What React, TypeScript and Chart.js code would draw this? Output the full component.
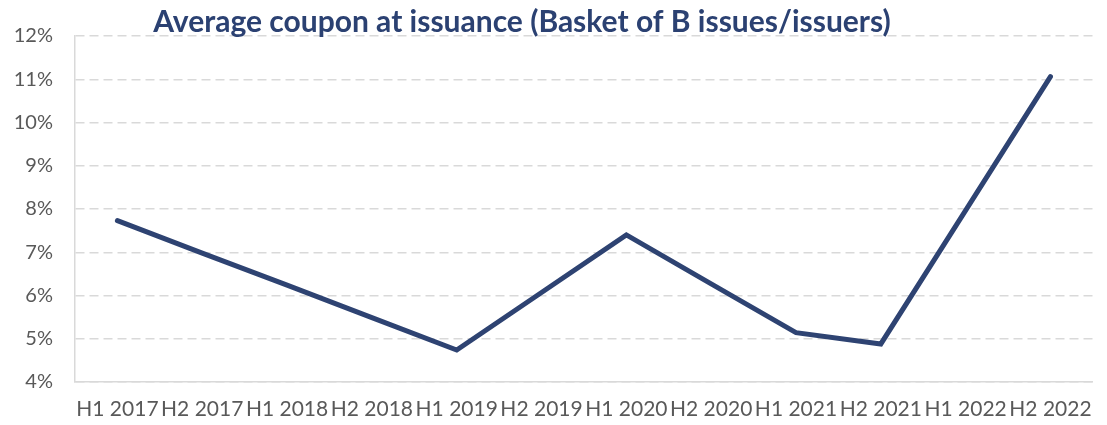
import React, { useEffect, useRef } from "react";
import { Chart, registerables } from "chart.js";

Chart.register(...registerables);

const categories = [
  "H1 2017", "H2 2017", "H1 2018", "H2 2018", "H1 2019", "H2 2019",
  "H1 2020", "H2 2020", "H1 2021", "H2 2021", "H1 2022", "H2 2022",
];
const avgCoupon = [7.73, 6.98, 6.24, 5.49, 4.74, 6.07, 7.4, 6.27, 5.14, 4.88, 7.97, 11.06];
const yTicks = [4, 5, 6, 7, 8, 9, 10, 11, 12];
const titleText = "Average coupon at issuance (Basket of B issues/issuers)";

const FONT = "Lato, 'Open Sans', sans-serif";

export default function App() {
  const ref = useRef<HTMLCanvasElement | null>(null);
  useEffect(() => {
    document.body.style.margin = "0";
    const titlePlugin = {
      id: "customTitle",
      afterDraw(chart: any) {
        const ctx = chart.ctx;
        ctx.save();
        ctx.font = `bold 30px ${FONT}`;
        ctx.fillStyle = "#2B4172";
        ctx.textAlign = "center";
        ctx.textBaseline = "alphabetic";
        ctx.fillText(titleText, 522, 32);
        ctx.restore();
      },
    };
    const chart = new Chart(ref.current!, {
      type: "line",
      data: {
        labels: categories,
        datasets: [
          {
            data: avgCoupon,
            borderColor: "#2E4372",
            borderWidth: 5,
            pointRadius: 0,
            tension: 0,
            fill: false,
            borderCapStyle: "round",
            borderJoinStyle: "miter",
          },
        ],
      },
      options: {
        responsive: false,
        animation: false,
        layout: { padding: { top: 36, right: 9, left: 0, bottom: 0 } },
        plugins: { legend: { display: false }, tooltip: { enabled: false }, title: { display: false } },
        scales: {
          x: {
            offset: true,
            grid: { display: false, drawTicks: false },
            border: { display: true, color: "#D9D9D9", width: 1.5 },
            ticks: {
              autoSkip: false,
              maxRotation: 0,
              minRotation: 0,
              padding: 15,
              color: "#595959",
              font: { family: FONT, size: 21 },
            },
            afterFit(scale: any) {
              scale.height = 43;
            },
          },
          y: {
            min: 4,
            max: 12,
            afterBuildTicks(scale: any) {
              scale.ticks = yTicks.map((v) => ({ value: v }));
            },
            grid: { color: "#D9D9D9", lineWidth: 1.5, drawTicks: false },
            border: { display: true, color: "#D9D9D9", width: 1.5, dash: [9, 5] },
            ticks: {
              padding: 22,
              color: "#595959",
              font: { family: FONT, size: 20 },
              callback: (v: any) => `${v}%`,
            },
            afterFit(scale: any) {
              scale.width = 75;
            },
          },
        },
      },
      plugins: [titlePlugin],
    } as any);
    return () => chart.destroy();
  }, []);
  return <canvas ref={ref} width={1107} height={425} style={{ display: "block" }} />;
}
